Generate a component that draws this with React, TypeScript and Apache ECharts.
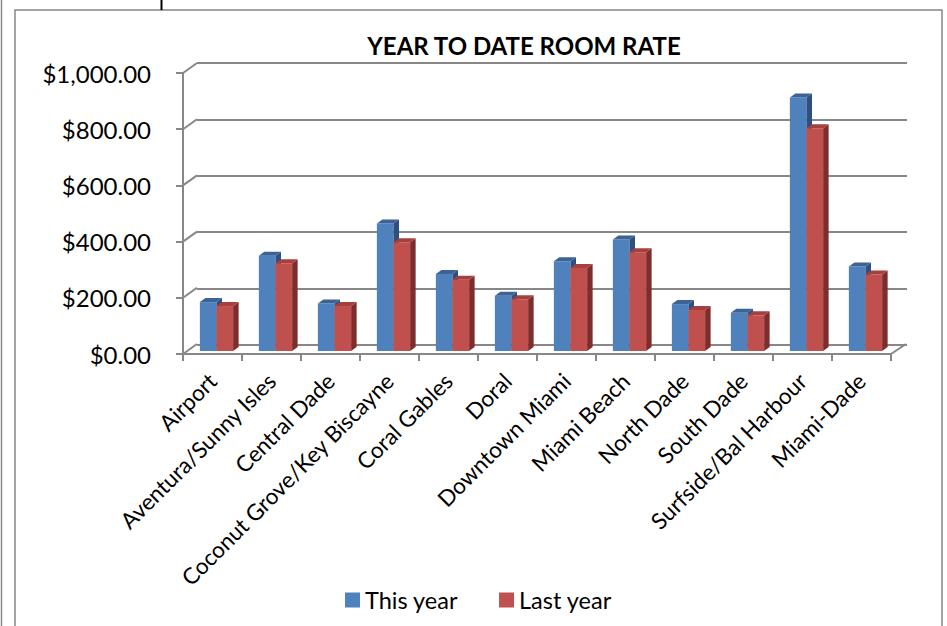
import React, { useEffect, useRef } from "react";
import * as echarts from "echarts";

const categories = [
  "Airport",
  "Aventura/Sunny Isles",
  "Central Dade",
  "Coconut Grove/Key Biscayne",
  "Coral Gables",
  "Doral",
  "Downtown Miami",
  "Miami Beach",
  "North Dade",
  "South Dade",
  "Surfside/Bal Harbour",
  "Miami-Dade",
];
const thisYear = [174, 339, 169, 454, 274, 197, 319, 397, 167, 136, 902, 301];
const lastYear = [160, 312, 160, 387, 254, 184, 295, 351, 146, 127, 793, 272];
const yTicks = [0, 200, 400, 600, 800, 1000];

const FONT = "Lato, 'Open Sans', sans-serif";
const GRAY = "#878787";
const BLUE = { front: "#4F81BD", top: "#3B6396", side: "#2E5080" };
const RED = { front: "#C0504D", top: "#A6403D", side: "#7D2E2C" };

// geometry of the pseudo-3D box
const FRONT = { left: 183, top: 73, width: 708, height: 281 };
const DEPTH_X = 14;
const DEPTH_Y = -10;
const BAR_OFF_X = 4;
const BAR_OFF_Y = -3;
const BAR_DX = 5.5;
const BAR_DY = -4;
const BAR_FRAC = 0.282;

function barRenderer(colors: { front: string; top: string; side: string }, sideIdx: number) {
  return (params: any, api: any) => {
    const idx = api.value(0);
    const v = api.value(1);
    const base = api.coord([idx, 0]);
    const topPt = api.coord([idx, v]);
    const bw = api.size([1, 0])[0] * BAR_FRAC;
    const x0 = sideIdx === 0 ? base[0] - bw : base[0];
    const x1 = x0 + bw;
    const yb = base[1];
    const yt = topPt[1];
    return {
      type: "group",
      children: [
        {
          type: "rect",
          shape: { x: x0, y: yt, width: bw, height: yb - yt },
          style: { fill: colors.front },
        },
        {
          type: "polygon",
          shape: {
            points: [
              [x1, yt],
              [x1 + BAR_DX, yt + BAR_DY],
              [x1 + BAR_DX, yb + BAR_DY],
              [x1, yb],
            ],
          },
          style: { fill: colors.side },
        },
        {
          type: "polygon",
          shape: {
            points: [
              [x0, yt],
              [x1, yt],
              [x1 + BAR_DX, yt + BAR_DY],
              [x0 + BAR_DX, yt + BAR_DY],
            ],
          },
          style: { fill: colors.top },
        },
      ],
    };
  };
}

export default function App() {
  const ref = useRef<HTMLDivElement>(null);

  useEffect(() => {
    if (!ref.current) return;
    const chart = echarts.init(ref.current, null, { renderer: "svg" });

    const money = (v: number) =>
      "$" + v.toLocaleString("en-US", { minimumFractionDigits: 2, maximumFractionDigits: 2 });

    const lineStyle = { color: GRAY, width: 2 };

    const option: any = {
      animation: false,
      backgroundColor: "#ffffff",
      title: {
        text: "YEAR TO DATE ROOM RATE",
        left: 519,
        top: 28,
        textAlign: "center",
        textStyle: { fontFamily: FONT, fontWeight: "bold", fontSize: 24, color: "#000" },
      },
      legend: {
        data: [
          { name: "This year", icon: "rect" },
          { name: "Last year", icon: "rect" },
        ],
        left: 340,
        top: 583,
        itemWidth: 15,
        itemHeight: 15,
        itemGap: 41,
        textStyle: { fontFamily: FONT, fontSize: 23.5, color: "#000" },
      },
      grid: [
        { ...FRONT },
        {
          left: FRONT.left + DEPTH_X,
          top: FRONT.top + DEPTH_Y,
          width: FRONT.width + 2,
          height: FRONT.height + 1,
        },
        {
          left: FRONT.left + BAR_OFF_X,
          top: FRONT.top + BAR_OFF_Y,
          width: FRONT.width,
          height: FRONT.height,
        },
      ],
      xAxis: [
        {
          gridIndex: 0,
          type: "category",
          data: categories,
          axisLine: { show: true, lineStyle },
          axisTick: { show: true, interval: 0, length: 7, lineStyle },
          axisLabel: {
            interval: 0,
            rotate: 45,
            margin: 23,
            fontFamily: FONT,
            fontSize: 22.5,
            color: "#000",
          },
          splitLine: { show: false },
        },
        { gridIndex: 1, type: "category", data: categories, show: false },
        { gridIndex: 2, type: "category", data: categories, show: false },
      ],
      yAxis: [
        {
          gridIndex: 0,
          type: "value",
          min: 0,
          max: 1000,
          interval: 200,
          axisLine: { show: true, lineStyle },
          axisTick: { show: true, length: 7, lineStyle },
          axisLabel: {
            formatter: money,
            margin: 32,
            fontFamily: FONT,
            fontSize: 24,
            color: "#000",
          },
          splitLine: { show: false },
        },
        {
          gridIndex: 1,
          type: "value",
          min: 0,
          max: 1000,
          interval: 200,
          axisLine: { show: false },
          axisTick: { show: false },
          axisLabel: { show: false },
          splitLine: { show: true, lineStyle },
        },
        { gridIndex: 2, type: "value", min: 0, max: 1000, interval: 200, show: false },
      ],
      series: [
        {
          type: "custom",
          name: "depth",
          xAxisIndex: 0,
          yAxisIndex: 0,
          silent: true,
          data: yTicks.map((v) => [0, v]),
          renderItem: (params: any, api: any) => {
            const cs = params.coordSys;
            const v = api.value(1);
            const y = api.coord([0, v])[1];
            const children: any[] = [
              {
                type: "line",
                shape: { x1: cs.x, y1: y, x2: cs.x + DEPTH_X, y2: y + DEPTH_Y },
                style: { stroke: GRAY, lineWidth: 2 },
              },
            ];
            if (v === 0) {
              children.push({
                type: "line",
                shape: {
                  x1: cs.x + cs.width,
                  y1: y,
                  x2: cs.x + cs.width + DEPTH_X + 1,
                  y2: y + DEPTH_Y,
                },
                style: { stroke: GRAY, lineWidth: 2 },
              });
            }
            return { type: "group", children };
          },
        },
        {
          type: "custom",
          name: "This year",
          xAxisIndex: 2,
          yAxisIndex: 2,
          itemStyle: { color: BLUE.front },
          data: thisYear.map((v, i) => [i, v]),
          renderItem: barRenderer(BLUE, 0),
        },
        {
          type: "custom",
          name: "Last year",
          xAxisIndex: 2,
          yAxisIndex: 2,
          itemStyle: { color: RED.front },
          data: lastYear.map((v, i) => [i, v]),
          renderItem: barRenderer(RED, 1),
        },
      ],
      graphic: [
        {
          type: "rect",
          shape: { x: 15, y: 10, width: 927, height: 640 },
          style: { fill: "none", stroke: GRAY, lineWidth: 1.5 },
          z: -1,
        },
        {
          type: "line",
          shape: { x1: 1.5, y1: 0, x2: 1.5, y2: 626 },
          style: { stroke: GRAY, lineWidth: 1.5 },
        },
        {
          type: "line",
          shape: { x1: 161.5, y1: 0, x2: 161.5, y2: 10 },
          style: { stroke: "#000", lineWidth: 2 },
        },
      ],
    };

    chart.setOption(option);
    return () => chart.dispose();
  }, []);

  return (
    <div
      ref={ref}
      style={{ position: "absolute", left: 0, top: 0, width: 947, height: 626 }}
    />
  );
}
